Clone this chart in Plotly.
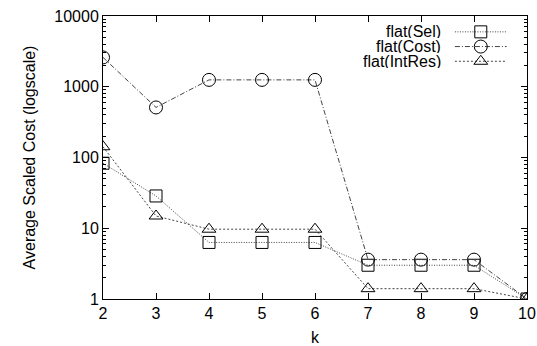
import plotly.graph_objects as go

k = [2, 3, 4, 5, 6, 7, 8, 9, 10]
sel = [83, 28.6, 6.3, 6.3, 6.3, 3.0, 3.0, 3.0, 1.0]
cost = [2600, 510, 1250, 1250, 1250, 3.6, 3.6, 3.6, 1.0]
intres = [142, 14.9, 9.7, 9.7, 9.7, 1.4, 1.4, 1.4, 1.0]
names = ["flat(Sel)", "flat(Cost)", "flat(IntRes)"]
y_ticks = [1, 10, 100, 1000, 10000]
y_minor = [m * d for d in [1, 10, 100, 1000] for m in range(2, 10)]

FONT = "Liberation Sans, Arial, Helvetica, sans-serif"
FS = 16
LINE_COL = "#444"

styles = [
    dict(dash="1px,1.5px", symbol="square-open", size=12),
    dict(dash="5px,2px,1px,2px", symbol="circle-open", size=13),
    dict(dash="2px,2px", symbol="triangle-up-open", size=12),
]
series = [sel, cost, intres]

fig = go.Figure()
for s, st, nm in zip(series, styles, names):
    fig.add_trace(go.Scatter(
        x=k, y=s, mode="lines+markers", name=nm, showlegend=False,
        line=dict(color=LINE_COL, width=1, dash=st["dash"]),
        marker=dict(symbol=st["symbol"], size=st["size"], color="black",
                    line=dict(color="black", width=1)),
    ))

# manual legend (gnuplot style: text right, sample on the right)
leg_y = [0.944, 0.892, 0.840]
for st, nm, yy in zip(styles, names, leg_y):
    fig.add_trace(go.Scatter(
        x=[0.830, 0.952], y=[yy, yy], xaxis="x2", yaxis="y2", mode="lines",
        showlegend=False, hoverinfo="skip",
        line=dict(color=LINE_COL, width=1, dash=st["dash"]),
    ))
    fig.add_trace(go.Scatter(
        x=[0.891], y=[yy], xaxis="x2", yaxis="y2", mode="markers",
        showlegend=False, hoverinfo="skip",
        marker=dict(symbol=st["symbol"], size=st["size"], color="black",
                    line=dict(color="black", width=1)),
    ))
    fig.add_annotation(x=0.800, y=yy, xref="paper", yref="paper", text=nm,
                       showarrow=False, xanchor="right", yanchor="middle",
                       height=13, borderpad=0,
                       font=dict(family=FONT, size=FS, color="black"))

# invisible trace on mirrored right axis so its ticks get drawn
fig.add_trace(go.Scatter(x=[k[0]], y=[y_ticks[0]], yaxis="y3", mode="markers",
                         marker=dict(opacity=0), showlegend=False,
                         hoverinfo="skip"))

fig.update_layout(
    width=537, height=346,
    margin=dict(l=103, r=10, t=16, b=47),
    paper_bgcolor="white", plot_bgcolor="white",
    font=dict(family=FONT, size=FS, color="black"),
    xaxis=dict(
        range=[2, 10], tickvals=k, ticks="inside", ticklen=6, tickwidth=1,
        tickcolor="black", showline=True, linecolor="black", linewidth=1,
        mirror="ticks", showgrid=False, zeroline=False, automargin=False,
        title=dict(text="k", standoff=12, font=dict(size=FS)),
        tickfont=dict(size=FS),
    ),
    yaxis=dict(
        type="log", range=[0, 4], tickvals=y_ticks,
        ticktext=[str(v) for v in y_ticks],
        ticks="inside", ticklen=6, tickwidth=1, tickcolor="black",
        showline=True, linecolor="black", linewidth=1, mirror="ticks",
        showgrid=False, zeroline=False, automargin=False,
        minor=dict(ticks="inside", ticklen=3, tickcolor="black",
                   tickvals=y_minor, showgrid=False),
        title=dict(text="Average Scaled Cost (logscale)", standoff=14,
                   font=dict(size=FS)),
        tickfont=dict(size=FS),
    ),
    yaxis3=dict(
        type="log", range=[0, 4], tickvals=y_ticks, overlaying="y",
        side="right", showticklabels=False,
        ticks="inside", ticklen=6, tickwidth=1, tickcolor="black",
        showline=False, showgrid=False, zeroline=False, automargin=False,
        minor=dict(ticks="inside", ticklen=3, tickcolor="black",
                   tickvals=y_minor, showgrid=False),
        fixedrange=True,
    ),
    xaxis2=dict(range=[0, 1], overlaying="x", visible=False, fixedrange=True),
    yaxis2=dict(range=[0, 1], overlaying="y", visible=False, fixedrange=True),
)

fig.write_html("out.html")
